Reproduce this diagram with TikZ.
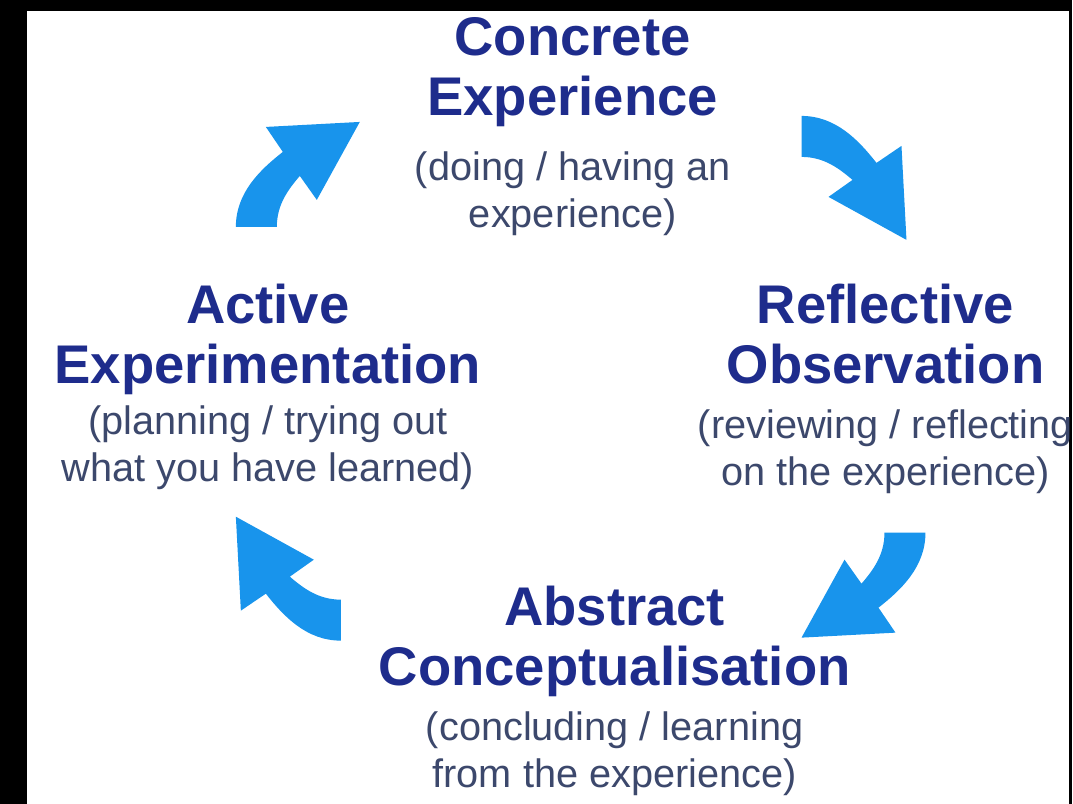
\documentclass[tikz,border=0pt]{standalone}
\usepackage{fontspec}
\setmainfont{Liberation Sans}
\usetikzlibrary{positioning}

\definecolor{titleblue}{RGB}{30,44,140}
\definecolor{subgrey}{RGB}{60,72,108}
\definecolor{arrowblue}{RGB}{24,148,236}

\tikzset{
  phase/.style={align=center, inner sep=0pt, anchor=north, text depth=0pt,
    text=titleblue, font=\fontsize{15.5}{17}\selectfont\bfseries},
  phasesub/.style={align=center, inner sep=0pt, text=subgrey,
    font=\fontsize{11.3}{13.3}\selectfont},
  bentarrow/.pic={
    \fill[arrowblue] (-62,52) .. controls (-62,18) and (-38,-5) .. (-15,-23)
      -- (-32,-48) -- (62,-53) -- (19,25) -- (2,1)
      .. controls (-10,15) and (-21,30) .. (-21,52) -- cycle;
  }
}

\begin{document}
\begin{tikzpicture}[x=0.1mm, y=-0.1mm]
  % frame
  \fill[black] (0,0) rectangle (1073,804);
  \fill[white] (27,11) rectangle (1070,804);

  % the four phases
  \node[phase] (ce) at (573,17) {Concrete\\Experience};
  \node[phasesub, below=10pt of ce] (cesub) {(doing / having an\\experience)};

  \node[phase] (ro) at (886,284) {Reflective\\Observation};
  \node[phasesub, below=7pt of ro] (rosub) {(reviewing / reflecting\\on the experience)};

  \node[phase] (ac) at (615,586) {Abstract\\Conceptualisation};
  \node[phasesub, below=7pt of ac] (acsub) {(concluding / learning\\from the experience)};

  \node[phase] (ae) at (268,284) {Active\\Experimentation};
  \node[phasesub, below=6pt of ae] (aesub) {(planning / trying out\\what you have learned)};

  % cycle arrows
  \pic at (298,175) {bentarrow};
  \pic[rotate=-90] at (854,178) {bentarrow};
  \pic[rotate=180] at (864,585) {bentarrow};
  \pic[rotate=90] at (289,579) {bentarrow};
\end{tikzpicture}
\end{document}
